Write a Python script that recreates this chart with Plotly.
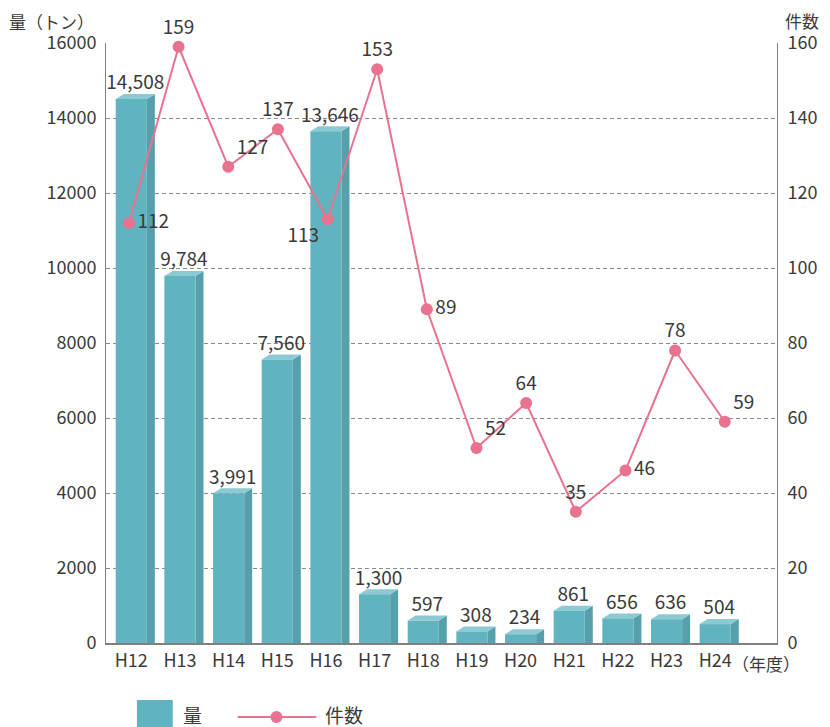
import plotly.graph_objects as go

categories = ["H12", "H13", "H14", "H15", "H16", "H17", "H18", "H19", "H20", "H21", "H22", "H23", "H24"]
amount_tons = [14508, 9784, 3991, 7560, 13646, 1300, 597, 308, 234, 861, 656, 636, 504]
case_counts = [112, 159, 127, 137, 113, 153, 89, 52, 64, 35, 46, 78, 59]
count_text_pos = ["middle right", "top center", "top right", "top center", "bottom left",
                  "top center", "middle right", "top right", "top center", "top center",
                  "middle right", "top center", "top right"]

FONT = "Noto Sans CJK JP"
FRONT = "#62b3c0"
SIDE = "#55a0aa"
TOP = "#8ccad3"
PINK = "#e9728e"
TXT = "#3a3a3a"

OFF = 8  # page body margin
W, H = 830 - OFF, 727 - OFF
# plot area in screen pixels
SX0, SX1, SY0, SY1 = 106, 779, 43, 643
L, T = SX0 - OFF, SY0 - OFF
R, B = W - (SX1 - OFF), H - (SY1 - OFF)
plot_w = SX1 - SX0
plot_h = SY1 - SY0
x_range = [-0.52, 13.27]
x2_range = [-0.462, 13.052]
y_max = 16000

xs = list(range(len(categories)))
bar_w = 0.64
dx = 8 / (plot_w / (x_range[1] - x_range[0]))
dy = 5 * y_max / plot_h

fig = go.Figure()
fig.add_trace(go.Bar(
    x=xs, y=amount_tons, width=bar_w, marker=dict(color=FRONT, line=dict(width=0)),
    name="量", showlegend=False, yaxis="y", hoverinfo="y"))

# value labels above bars
fig.add_trace(go.Scatter(
    x=[x + dx / 2 for x in xs], y=[v + dy for v in amount_tons], mode="text",
    text=[f"{v:,}" for v in amount_tons], textposition="top center",
    textfont=dict(family=FONT, size=19, color=TXT), showlegend=False, hoverinfo="skip",
    cliponaxis=False))

fig.add_trace(go.Scatter(
    x=xs, y=case_counts, xaxis="x2", yaxis="y2", mode="lines+markers+text",
    line=dict(color=PINK, width=2), marker=dict(color=PINK, size=12),
    text=[str(c) for c in case_counts], textposition=count_text_pos,
    textfont=dict(family=FONT, size=19, color=TXT), name="件数", showlegend=False,
    cliponaxis=False))

shapes = []
for x, v in zip(xs, amount_tons):
    xl, xr = x - bar_w / 2, x + bar_w / 2
    top_path = f"M {xl},{v} L {xl+dx},{v+dy} L {xr+dx},{v+dy} L {xr},{v} Z"
    side_path = f"M {xr},0 L {xr},{v} L {xr+dx},{v+dy} L {xr+dx},0 Z"
    shapes.append(dict(type="path", path=side_path, xref="x", yref="y",
                       fillcolor=SIDE, line=dict(width=0), layer="between"))
    shapes.append(dict(type="path", path=top_path, xref="x", yref="y",
                       fillcolor=TOP, line=dict(width=0), layer="between"))

def px(sx):
    return (sx - SX0) / plot_w

def py(sy):
    return (SY1 - sy) / plot_h

# custom legend
shapes.append(dict(type="rect", xref="paper", yref="paper",
                   x0=px(137), x1=px(173), y0=py(700), y1=py(730),
                   fillcolor=FRONT, line=dict(width=0)))
shapes.append(dict(type="line", xref="paper", yref="paper",
                   x0=px(238), x1=px(317), y0=py(717), y1=py(717),
                   line=dict(color=PINK, width=2)))
shapes.append(dict(type="circle", xref="paper", yref="paper",
                   x0=px(271), x1=px(283), y0=py(711), y1=py(723),
                   fillcolor=PINK, line=dict(width=0)))

annotations = [
    dict(text="量（トン）", xref="paper", yref="paper", x=px(8), y=py(21),
         xanchor="left", yanchor="middle", showarrow=False, borderpad=0,
         font=dict(family=FONT, size=17, color=TXT)),
    dict(text="件数", xref="paper", yref="paper", x=px(804), y=py(20),
         xanchor="center", yanchor="middle", showarrow=False, borderpad=0,
         font=dict(family=FONT, size=17, color=TXT)),
    dict(text="（年度）", xref="paper", yref="paper", x=px(733), y=py(663),
         xanchor="left", yanchor="middle", showarrow=False, borderpad=0,
         font=dict(family=FONT, size=17, color=TXT)),
    dict(text="量", xref="paper", yref="paper", x=px(181), y=py(714),
         xanchor="left", yanchor="middle", showarrow=False,
         font=dict(family=FONT, size=19, color=TXT)),
    dict(text="件数", xref="paper", yref="paper", x=px(324), y=py(714),
         xanchor="left", yanchor="middle", showarrow=False,
         font=dict(family=FONT, size=19, color=TXT)),
]

fig.update_layout(
    width=W, height=H, margin=dict(l=L, r=R, t=T, b=B),
    plot_bgcolor="white", paper_bgcolor="white",
    font=dict(family=FONT, size=16, color=TXT),
    showlegend=False, bargap=0.3,
    xaxis=dict(range=x_range, tickmode="array", tickvals=xs, ticktext=categories,
               showgrid=False, zeroline=False, showline=True, linecolor="#808080",
               linewidth=2, ticks="", tickfont=dict(family=FONT, size=18, color=TXT)),
    xaxis2=dict(range=x2_range, overlaying="x", visible=False),
    yaxis=dict(range=[0, y_max], dtick=2000, tickformat="d", showgrid=True,
               gridcolor="#8a8a8a", griddash="4px,3px", gridwidth=1, zeroline=False,
               showline=True, linecolor="#808080", linewidth=1, ticks="",
               ticklabelstandoff=5,
               tickfont=dict(family=FONT, size=18, color=TXT)),
    yaxis2=dict(range=[0, 160], dtick=20, overlaying="y", side="right", showgrid=False,
                zeroline=False, showline=True, linecolor="#808080", linewidth=1,
                ticks="", ticklabelstandoff=6,
                tickfont=dict(family=FONT, size=18, color=TXT)),
    shapes=shapes, annotations=annotations,
)

fig.write_html("out.html")
